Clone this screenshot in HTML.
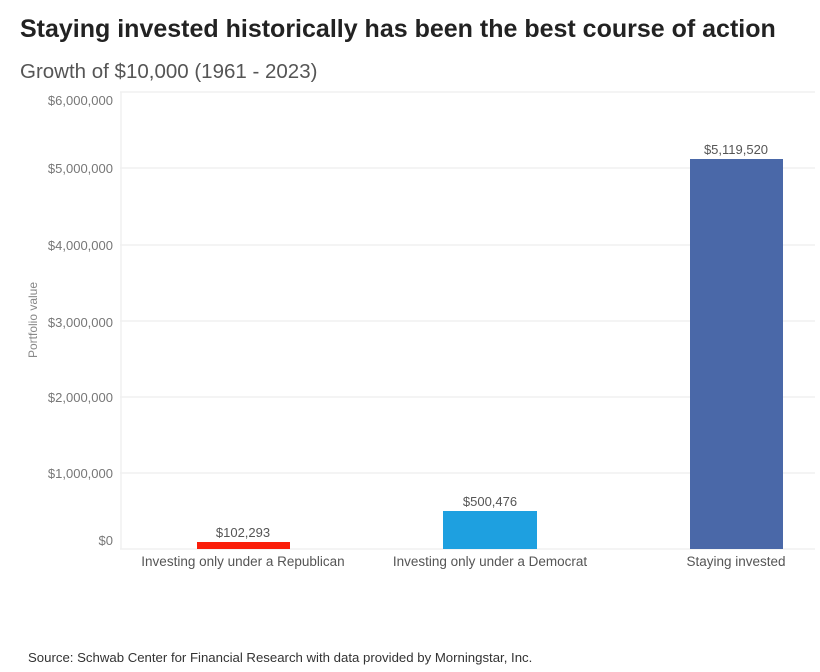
<!DOCTYPE html>
<html><head><style>
body{margin:0;background:#fff;width:820px;height:672px;position:relative;font-family:"Liberation Sans",sans-serif;overflow:hidden}
.t{position:absolute;left:20px;top:15px;font-size:25px;font-weight:bold;color:#222}
.s{position:absolute;left:20px;top:60px;font-size:20.5px;color:#555}
.src{position:absolute;left:28px;top:650px;font-size:13.2px;color:#333}
</style></head><body>
<div class="t">Staying invested historically has been the best course of action</div>
<div class="s">Growth of $10,000 (1961 - 2023)</div>
<svg width="820" height="672" style="position:absolute;left:0;top:0" font-family="Liberation Sans, sans-serif">
<g stroke="#f0f0f0" stroke-width="1.5">
<line x1="120" x2="815" y1="92" y2="92"/><line x1="120" x2="815" y1="168" y2="168"/>
<line x1="120" x2="815" y1="245" y2="245"/><line x1="120" x2="815" y1="321" y2="321"/>
<line x1="120" x2="815" y1="397" y2="397"/><line x1="120" x2="815" y1="473" y2="473"/>
<line x1="120" x2="815" y1="549" y2="549"/><line x1="121" x2="121" y1="92" y2="549"/>
</g>
<g fill="#777" font-size="13" text-anchor="end">
<text x="113" y="105">$6,000,000</text><text x="113" y="173">$5,000,000</text>
<text x="113" y="250">$4,000,000</text><text x="113" y="327">$3,000,000</text>
<text x="113" y="402">$2,000,000</text><text x="113" y="478">$1,000,000</text>
<text x="113" y="545">$0</text>
</g>
<text transform="translate(37,320) rotate(-90)" fill="#888" font-size="12" text-anchor="middle">Portfolio value</text>
<rect x="197" y="542" width="93" height="7" fill="#fa1e0a"/>
<rect x="443" y="511" width="94" height="38" fill="#1ea0e0"/>
<rect x="690" y="159" width="93" height="390" fill="#4a68a8"/>
<g fill="#555" font-size="13" text-anchor="middle">
<text x="243" y="537">$102,293</text><text x="490" y="506">$500,476</text><text x="736" y="154">$5,119,520</text>
</g>
<g fill="#555" font-size="13.5" text-anchor="middle">
<text x="243" y="566">Investing only under a Republican</text>
<text x="490" y="566">Investing only under a Democrat</text>
<text x="736" y="566">Staying invested</text>
</g>
</svg>
<div class="src">Source: Schwab Center for Financial Research with data provided by Morningstar, Inc.</div>
</body></html>
